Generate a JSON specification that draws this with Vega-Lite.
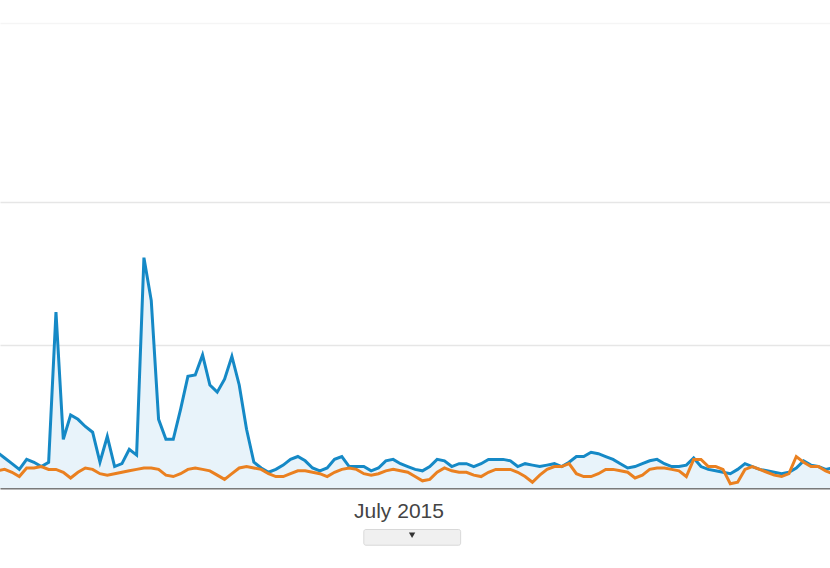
{
  "$schema": "https://vega.github.io/schema/vega-lite/v6.json",
  "autosize": "none",
  "width": 830,
  "height": 465,
  "padding": {"top": 23, "left": 0, "right": 0, "bottom": 80},
  "background": "white",
  "config": {"view": {"stroke": null}},
  "datasets": {
    "traffic": [
      {"d":"2015-05-07","a":25,"b":12},{"d":"2015-05-08","a":21,"b":13},{"d":"2015-05-09","a":17,"b":11},{"d":"2015-05-10","a":13,"b":8},
      {"d":"2015-05-11","a":20,"b":14},{"d":"2015-05-12","a":18,"b":14},{"d":"2015-05-13","a":15,"b":15},{"d":"2015-05-14","a":18,"b":13},
      {"d":"2015-05-15","a":123,"b":13},{"d":"2015-05-16","a":34,"b":11},{"d":"2015-05-17","a":51,"b":7},{"d":"2015-05-18","a":48,"b":11},
      {"d":"2015-05-19","a":43,"b":14},{"d":"2015-05-20","a":39,"b":13},{"d":"2015-05-21","a":18,"b":10},{"d":"2015-05-22","a":36,"b":9},
      {"d":"2015-05-23","a":15,"b":10},{"d":"2015-05-24","a":17,"b":11},{"d":"2015-05-25","a":27,"b":12},{"d":"2015-05-26","a":23,"b":13},
      {"d":"2015-05-27","a":161,"b":14},{"d":"2015-05-28","a":131,"b":14},{"d":"2015-05-29","a":48,"b":13},{"d":"2015-05-30","a":34,"b":9},
      {"d":"2015-05-31","a":34,"b":8},{"d":"2015-06-01","a":55,"b":10},{"d":"2015-06-02","a":78,"b":13},{"d":"2015-06-03","a":79,"b":14},
      {"d":"2015-06-04","a":93,"b":13},{"d":"2015-06-05","a":72,"b":12},{"d":"2015-06-06","a":67,"b":9},{"d":"2015-06-07","a":76,"b":6},
      {"d":"2015-06-08","a":92,"b":10},{"d":"2015-06-09","a":72,"b":14},{"d":"2015-06-10","a":41,"b":15},{"d":"2015-06-11","a":18,"b":14},
      {"d":"2015-06-12","a":14,"b":13},{"d":"2015-06-13","a":11,"b":10},{"d":"2015-06-14","a":13,"b":8},{"d":"2015-06-15","a":16,"b":8},
      {"d":"2015-06-16","a":20,"b":10},{"d":"2015-06-17","a":22,"b":12},{"d":"2015-06-18","a":19,"b":12},{"d":"2015-06-19","a":14,"b":11},
      {"d":"2015-06-20","a":12,"b":10},{"d":"2015-06-21","a":14,"b":8},{"d":"2015-06-22","a":20,"b":11},{"d":"2015-06-23","a":22,"b":13},
      {"d":"2015-06-24","a":15,"b":14},{"d":"2015-06-25","a":15,"b":13},{"d":"2015-06-26","a":15,"b":10},{"d":"2015-06-27","a":12,"b":9},
      {"d":"2015-06-28","a":14,"b":10},{"d":"2015-06-29","a":19,"b":12},{"d":"2015-06-30","a":20,"b":13},{"d":"2015-07-01","a":17,"b":12},
      {"d":"2015-07-02","a":15,"b":11},{"d":"2015-07-03","a":13,"b":8},{"d":"2015-07-04","a":12,"b":5},{"d":"2015-07-05","a":15,"b":6},
      {"d":"2015-07-06","a":20,"b":11},{"d":"2015-07-07","a":19,"b":14},{"d":"2015-07-08","a":15,"b":12},{"d":"2015-07-09","a":17,"b":11},
      {"d":"2015-07-10","a":17,"b":11},{"d":"2015-07-11","a":15,"b":9},{"d":"2015-07-12","a":17,"b":8},{"d":"2015-07-13","a":20,"b":11},
      {"d":"2015-07-14","a":20,"b":13},{"d":"2015-07-15","a":20,"b":13},{"d":"2015-07-16","a":19,"b":13},{"d":"2015-07-17","a":15,"b":11},
      {"d":"2015-07-18","a":17,"b":8},{"d":"2015-07-19","a":16,"b":4},{"d":"2015-07-20","a":15,"b":9},{"d":"2015-07-21","a":16,"b":13},
      {"d":"2015-07-22","a":17,"b":15},{"d":"2015-07-23","a":15,"b":15},{"d":"2015-07-24","a":18,"b":17},{"d":"2015-07-25","a":22,"b":10},
      {"d":"2015-07-26","a":22,"b":8},{"d":"2015-07-27","a":25,"b":8},{"d":"2015-07-28","a":24,"b":10},{"d":"2015-07-29","a":22,"b":13},
      {"d":"2015-07-30","a":20,"b":13},{"d":"2015-07-31","a":17,"b":12},{"d":"2015-08-01","a":14,"b":11},{"d":"2015-08-02","a":15,"b":7},
      {"d":"2015-08-03","a":17,"b":9},{"d":"2015-08-04","a":19,"b":13},{"d":"2015-08-05","a":20,"b":14},{"d":"2015-08-06","a":17,"b":14},
      {"d":"2015-08-07","a":15,"b":13},{"d":"2015-08-08","a":15,"b":12},{"d":"2015-08-09","a":16,"b":8},{"d":"2015-08-10","a":21,"b":20},
      {"d":"2015-08-11","a":15,"b":20},{"d":"2015-08-12","a":13,"b":15},{"d":"2015-08-13","a":12,"b":15},{"d":"2015-08-14","a":11,"b":13},
      {"d":"2015-08-15","a":10,"b":3},{"d":"2015-08-16","a":13,"b":4},{"d":"2015-08-17","a":17,"b":13},{"d":"2015-08-18","a":15,"b":15},
      {"d":"2015-08-19","a":13,"b":13},{"d":"2015-08-20","a":12,"b":11},{"d":"2015-08-21","a":11,"b":9},{"d":"2015-08-22","a":10,"b":8},
      {"d":"2015-08-23","a":11,"b":10},{"d":"2015-08-24","a":14,"b":22},{"d":"2015-08-25","a":19,"b":18},{"d":"2015-08-26","a":16,"b":15},
      {"d":"2015-08-27","a":15,"b":15},{"d":"2015-08-28","a":13,"b":12},{"d":"2015-08-29","a":14,"b":10}
    ],
    "tab": [
      {"start":"2015-06-26T00:00:00Z","end":"2015-07-09T05:00:00Z","mid":"2015-07-02T14:00:00Z","top":-29,"bottom":-40,"arrow":-33}
    ]
  },
  "encoding": {
    "x": {
      "field": "d", "type": "temporal",
      "scale": {"type": "utc", "domain": [
        {"year": 2015, "month": 5, "date": 7, "hours": 8, "minutes": 44, "utc": true},
        {"year": 2015, "month": 8, "date": 28, "hours": 14, "minutes": 24, "utc": true}
      ]},
      "axis": {
        "title": null,
        "values": [{"year": 2015, "month": 7, "date": 1, "utc": true}],
        "labelExpr": "utcFormat(datum.value, '%B %Y')",
        "ticks": false, "tickSize": 0, "grid": false,
        "domainColor": "#7a7a7a", "domainWidth": 2,
        "labelFont": "Liberation Sans", "labelFontSize": 21, "labelColor": "#444444",
        "labelPadding": 12, "labelOverlap": false, "labelFlush": false, "labelOffset": -2
      }
    }
  },
  "layer": [
    {
      "data": {"name": "traffic"},
      "mark": {"type": "area", "color": "#e8f3fa", "clip": true},
      "encoding": {
        "y": {
          "field": "a", "type": "quantitative",
          "scale": {"domain": [0, 325], "nice": false, "zero": true},
          "axis": {
            "title": null, "values": [0, 100, 200, 325], "labels": false, "ticks": false, "domain": false, "grid": true,
            "gridColor": {"condition": {"test": "datum.value > 300", "value": "#f5f5f5"}, "value": "#e6e6e6"},
            "gridWidth": 1.5
          }
        }
      }
    },
    {
      "data": {"name": "traffic"},
      "mark": {"type": "line", "color": "#1589c6", "strokeWidth": 3, "clip": true},
      "encoding": {"y": {"field": "a", "type": "quantitative"}}
    },
    {
      "data": {"name": "traffic"},
      "mark": {"type": "line", "color": "#ea8020", "strokeWidth": 3, "clip": true},
      "encoding": {"y": {"field": "b", "type": "quantitative"}}
    },
    {
      "data": {"name": "tab"},
      "mark": {"type": "rule", "color": "#e6e6e6", "strokeWidth": 1.5},
      "encoding": {
        "x": {"datum": {"year": 2015, "month": 5, "date": 7, "hours": 8, "minutes": 44, "utc": true}, "type": "temporal"},
        "x2": {"datum": {"year": 2015, "month": 8, "date": 28, "hours": 14, "minutes": 24, "utc": true}},
        "y": {"field": "top", "type": "quantitative"}
      }
    },
    {
      "data": {"name": "tab"},
      "mark": {"type": "rect", "fill": "#f0f0f0", "stroke": "#d8d8d8", "strokeWidth": 1, "cornerRadius": 2},
      "encoding": {
        "x": {"field": "start", "type": "temporal"},
        "x2": {"field": "end"},
        "y": {"field": "top", "type": "quantitative"},
        "y2": {"field": "bottom"}
      }
    },
    {
      "data": {"name": "tab"},
      "mark": {"type": "point", "shape": "triangle-down", "filled": true, "color": "#333333", "size": 40, "opacity": 1},
      "encoding": {
        "x": {"field": "mid", "type": "temporal"},
        "y": {"field": "arrow", "type": "quantitative"}
      }
    }
  ]
}
